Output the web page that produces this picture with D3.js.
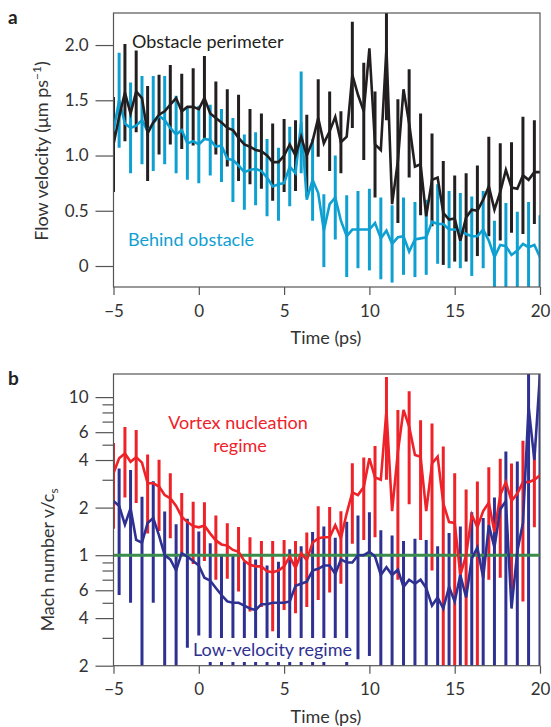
<!DOCTYPE html>
<html>
<head>
<meta charset="utf-8">
<script src="https://cdn.jsdelivr.net/npm/d3@7"></script>
<style>
  body { margin: 0; background: #fff; }
  text { font-family: Lato, "Open Sans", sans-serif; }
</style>
</head>
<body>
<svg id="chart" width="551" height="727"></svg>
<script>
// sample times (ps), every 1/3 ps
const times = [-5, -4.67, -4.33, -4, -3.67, -3.33, -3, -2.67, -2.33, -2, -1.67, -1.33, -1, -0.67, -0.33, 0,
  0.33, 0.67, 1, 1.33, 1.67, 2, 2.33, 2.67, 3, 3.33, 3.67, 4, 4.33, 4.67, 5, 5.33, 5.67, 6, 6.33, 6.67,
  7, 7.33, 7.67, 8, 8.33, 8.67, 9, 9.33, 9.67, 10, 10.33, 10.67, 11, 11.33, 11.67, 12, 12.33, 12.67,
  13, 13.33, 13.67, 14, 14.33, 14.67, 15, 15.33, 15.67, 16, 16.33, 16.67, 17, 17.33, 17.67, 18, 18.33,
  18.67, 19, 19.33, 19.67, 20];

// panel a: flow velocity (um/ps)
const perimeter = [1.10, 1.35, 1.57, 1.38, 1.58, 1.52, 1.20, 1.30, 1.37, 1.40, 1.46, 1.52, 1.40, 1.44, 1.44, 1.42,
  1.52, 1.38, 1.34, 1.30, 1.25, 1.23, 1.16, 1.10, 1.08, 1.05, 1.04, 1.00, 0.94, 0.94, 1.00, 1.10, 1.00, 1.17,
  1.00, 1.13, 1.34, 1.11, 1.22, 1.35, 1.12, 1.17, 1.73, 1.55, 1.40, 1.97, 1.10, 1.05, 1.97, 0.56, 0.95, 1.60,
  1.29, 0.90, 0.92, 0.45, 0.78, 0.80, 0.48, 0.42, 0.43, 0.23, 0.44, 0.51, 0.50, 0.60, 0.72, 0.51, 0.67, 0.87,
  0.71, 0.70, 0.82, 0.78, 0.85, 0.85];
const perimeterErr = [0.43, null, 0.44, null, 0.37, null, 0.43, null, 0.36, null, 0.36, null, 0.34, null, 0.35, null,
  0.38, null, 0.33, null, 0.35, null, 0.39, null, 0.34, null, 0.34, null, 0.35, null, 0.33, null, 0.32, null,
  0.37, null, 0.35, null, 0.36, null, 0.28, null, 0.48, null, 0.44, null, 0.48, null, 0.65, null, 0.56, null,
  0.49, null, 0.46, null, 0.42, null, 0.47, null, 0.39, null, 0.40, null, 0.41, null, 0.45, null, 0.44, null,
  0.41, null, 0.53, null, 0.47, null];
const behind = [1.22, 1.50, 1.29, 1.25, 1.27, 1.32, 1.22, 1.29, 1.36, 1.32, 1.25, 1.19, 1.23, 1.11, 1.13, 1.10,
  1.15, 1.14, 1.08, 1.09, 0.97, 0.96, 0.91, 0.85, 0.87, 0.88, 0.86, 0.80, 0.72, 0.74, 0.75, 0.90, 0.84, 1.30,
  0.60, 0.78, 0.66, 0.32, 0.56, 0.62, 0.41, 0.27, 0.33, 0.33, 0.33, 0.33, 0.39, 0.25, 0.32, 0.20, 0.26, 0.27,
  0.13, 0.24, 0.25, 0.26, 0.40, 0.38, 0.38, 0.33, 0.33, 0.32, 0.29, 0.27, 0.27, 0.33, 0.23, 0.08, 0.19, 0.18,
  0.10, 0.14, 0.20, 0.17, 0.19, 0.08];
const behindErr = [null, 0.43, null, 0.41, null, 0.40, null, 0.43, null, 0.40, null, 0.35, null, 0.33, null, 0.35,
  null, 0.32, null, 0.33, null, 0.38, null, 0.34, null, 0.33, null, 0.35, null, 0.33, null, 0.36, null, 0.46,
  null, 0.37, null, 0.33, null, 0.38, null, 0.37, null, 0.35, null, 0.37, null, 0.37, null, 0.35, null, 0.35,
  null, 0.34, null, 0.34, null, 0.36, null, 0.35, null, 0.34, null, 0.36, null, 0.35, null, 0.33, null, 0.39,
  null, 0.35, null, 0.41, null, 0.38];

// panel b: Mach number v/cs
const vortex = [3.3, 4.1, 4.4, 3.9, 4.17, 3.85, 2.85, 2.85, 2.72, 2.4, 2.29, 2.05, 1.75, 1.62, 1.53, 1.50,
  1.54, 1.37, 1.24, 1.17, 1.15, 1.08, 1.05, 0.92, 0.87, 0.85, 0.85, 0.79, 0.78, 0.80, 0.85, 0.98, 0.83, 1.03,
  0.93, 1.2, 1.28, 1.3, 1.3, 1.55, 1.28, 1.84, 2.5, 2.4, 2.7, 4.1, 3.1, 3.0, 8.2, 1.9, 4.5, 8.3,
  6.5, 4.3, 4.2, 1.9, 3.8, 4.2, 2.13, 1.62, 1.6, 0.75, 1.0, 1.8, 1.5, 1.9, 2.15, 1.4, 2.4, 2.9,
  2.2, 2.45, 2.9, 2.9, 3.0, 3.2];
const vortexErr = [1.83, null, 2.08, null, 2.03, null, 1.48, null, 1.3, null, 1.01, null, 0.72, null, 0.65, null,
  0.62, null, 0.54, null, 0.44, null, 0.46, null, 0.43, null, 0.38, null, 0.45, null, 0.40, null, 0.40, null,
  0.46, null, 0.76, null, 0.72, null, 0.62, null, 1.32, null, 1.45, null, 1.8, null, 5.2, null, 3.8, null,
  4.4, null, 2.95, null, 3.0, null, 2.74, null, 1.7, null, 1.6, null, 1.42, null, 1.45, null, 1.68, null,
  1.6, null, 2.39, null, 1.5, null];
const lowVel = [2.2, 2.05, 1.56, 1.98, 1.25, 1.2, 1.6, 1.72, 1.33, 1.0, 0.94, 0.8, 1.03, 0.98, 0.92, 0.86,
  0.72, 0.69, 0.62, 0.56, 0.51, 0.50, 0.50, 0.48, 0.46, 0.45, 0.49, 0.49, 0.50, 0.50, 0.50, 0.51, 0.64, 0.66,
  0.68, 0.8, 0.82, 0.86, 0.86, 0.76, 0.94, 0.9, 0.9, 1.0, 1.0, 1.05, 0.98, 0.75, 0.84, 0.75, 0.81, 0.63,
  0.7, 0.66, 0.7, 0.62, 0.48, 0.54, 0.46, 0.63, 0.51, 0.75, 0.54, 0.95, 1.12, 0.72, 1.55, 1.12, 1.95, 2.2,
  0.46, 1.06, 1.6, 8.7, 4.0, 14];
const lowVelErr = [null, 1.49, null, 1.48, null, 1.14, null, 1.22, null, 0.89, null, 0.77, null, 0.72, null, 0.55,
  null, 0.5, null, 0.43, null, 0.5, null, 0.43, null, 0.49, null, 0.37, null, 0.41, null, 0.58, null, 0.48,
  null, 0.6, null, 0.66, null, 0.53, null, 0.73, null, 0.78, null, 0.82, null, 0.69, null, 0.58, null, 0.6,
  null, 0.61, null, 0.63, null, 0.6, null, 0.75, null, 0.77, null, 0.92, null, 1.0, null, 1.2, null, 2.33,
  null, 2.85, null, 9, null, 14];

const xTicks = [-5, 0, 5, 10, 15, 20];
const aTicks = [0, 0.5, 1, 1.5, 2];
const bMajor = [0.2, 0.4, 0.6, 1, 2, 4, 6, 10];
const bMinor = [0.3, 0.5, 0.7, 0.8, 0.9, 3, 5, 7, 8, 9];

const C = {black: '#231f20', cyan: '#0fa0d2', red: '#ee2229', blue: '#2e3192', green: '#3a8c4c', axis: '#555'};

const svg = d3.select('#chart');
const x = d3.scaleLinear().domain([-5, 20]).range([113.5, 540]);
const ya = d3.scaleLinear().domain([-0.19, 2.29]).range([287, 13]);
const yb = d3.scaleLog().domain([0.2, 14]).range([665.7, 374]);

function clip(id, y0, y1) {
  svg.append('clipPath').attr('id', id).append('rect')
    .attr('x', x.range()[0]).attr('y', y1).attr('width', x.range()[1] - x.range()[0]).attr('height', y0 - y1);
}
clip('ca', ya.range()[0], ya.range()[1]);
clip('cb', yb.range()[0], yb.range()[1]);

function bars(g, vals, errs, y, color, isLog) {
  const data = vals.map((v, i) => ({t: times[i], v, e: errs[i]})).filter(d => d.e != null);
  g.selectAll(null).data(data).enter().append('line')
    .attr('x1', d => x(d.t)).attr('x2', d => x(d.t))
    .attr('y1', d => y(d.v + d.e))
    .attr('y2', d => (isLog && d.v - d.e <= 0.05) ? y.range()[0] + 5 : y(d.v - d.e))
    .attr('stroke', color).attr('stroke-width', 3);
}
function curve(g, vals, y, color) {
  g.append('path').datum(vals)
    .attr('d', d3.line().x((d, i) => x(times[i])).y(d => y(d)))
    .attr('fill', 'none').attr('stroke', color).attr('stroke-width', 2.6);
}
function styleAxis(g) {
  g.select('.domain').remove();
  g.selectAll('line').attr('stroke', C.axis).attr('stroke-width', 1.2);
  g.selectAll('text').attr('font-size', 17).attr('fill', '#333').attr('font-family', 'Lato, "Open Sans", sans-serif');
}

// ---------- panel a ----------
const ga = svg.append('g');
const pa = ga.append('g').attr('clip-path', 'url(#ca)');
bars(pa, behind, behindErr, ya, C.cyan, false);
bars(pa, perimeter, perimeterErr, ya, C.black, false);
curve(pa, behind, ya, C.cyan);
curve(pa, perimeter, ya, C.black);

ga.append('g').attr('transform', 'translate(113.5,0)')
  .call(d3.axisLeft(ya).tickValues(aTicks).tickSize(18).tickPadding(7)
    .tickFormat(d => d === 0 ? '0' : d.toFixed(1)))
  .call(styleAxis);
ga.append('g').attr('transform', 'translate(0,287)')
  .call(d3.axisBottom(x).tickValues(xTicks).tickSize(8).tickPadding(10))
  .call(styleAxis);
ga.append('rect').attr('x', 113.5).attr('y', 13).attr('width', 426.5).attr('height', 274)
  .attr('fill', 'none').attr('stroke', C.axis).attr('stroke-width', 1.2);

ga.append('text').attr('x', 326).attr('y', 344).attr('text-anchor', 'middle')
  .attr('font-size', 18).attr('fill', '#333').text('Time (ps)');
const la = ga.append('text').attr('transform', 'translate(48,151) rotate(-90)')
  .attr('text-anchor', 'middle').attr('font-size', 18).attr('fill', '#333');
la.append('tspan').text('Flow velocity (μm ps');
la.append('tspan').attr('font-size', 12).attr('dy', -7).text('−1');
la.append('tspan').attr('dy', 7).text(')');
ga.append('text').attr('x', 132).attr('y', 48).attr('font-size', 18).attr('fill', C.black).text('Obstacle perimeter');
ga.append('text').attr('x', 128).attr('y', 246).attr('font-size', 18).attr('fill', C.cyan).text('Behind obstacle');
svg.append('text').attr('x', 8).attr('y', 24).attr('font-size', 19).attr('font-weight', 'bold').attr('fill', '#222').text('a');

// ---------- panel b ----------
const gb = svg.append('g');
const pb = gb.append('g').attr('clip-path', 'url(#cb)');
bars(pb, vortex, vortexErr, yb, C.red, true);
bars(pb, lowVel, lowVelErr, yb, C.blue, true);
pb.append('line').attr('x1', x(-5)).attr('x2', x(20)).attr('y1', yb(1)).attr('y2', yb(1))
  .attr('stroke', C.green).attr('stroke-width', 3);
curve(pb, vortex, yb, C.red);
curve(pb, lowVel, yb, C.blue);

gb.append('rect').attr('x', 190).attr('y', 638).attr('width', 163).attr('height', 24).attr('fill', '#fff');
gb.append('text').attr('x', 193).attr('y', 656).attr('font-size', 18).attr('fill', C.blue).text('Low-velocity regime');
gb.append('text').attr('x', 238).attr('y', 429).attr('text-anchor', 'middle').attr('font-size', 18)
  .attr('fill', C.red).text('Vortex nucleation');
gb.append('text').attr('x', 240).attr('y', 452).attr('text-anchor', 'middle').attr('font-size', 18)
  .attr('fill', C.red).text('regime');

gb.append('g').attr('transform', 'translate(113.5,0)')
  .call(d3.axisLeft(yb).tickValues(bMajor).tickSize(18).tickPadding(7)
    .tickFormat(d => d >= 1 ? String(d) : String(Math.round(d * 10))))
  .call(styleAxis);
gb.append('g').attr('transform', 'translate(113.5,0)')
  .call(d3.axisLeft(yb).tickValues(bMinor).tickSize(11).tickFormat(''))
  .call(styleAxis);
gb.append('g').attr('transform', 'translate(0,665.7)')
  .call(d3.axisBottom(x).tickValues(xTicks).tickSize(8).tickPadding(9))
  .call(styleAxis);
gb.append('rect').attr('x', 113.5).attr('y', 374).attr('width', 426.5).attr('height', 291.7)
  .attr('fill', 'none').attr('stroke', C.axis).attr('stroke-width', 1.2);

gb.append('text').attr('x', 326).attr('y', 723).attr('text-anchor', 'middle')
  .attr('font-size', 18).attr('fill', '#333').text('Time (ps)');
const lb = gb.append('text').attr('transform', 'translate(54,560) rotate(-90)')
  .attr('text-anchor', 'middle').attr('font-size', 18).attr('fill', '#333');
lb.append('tspan').text('Mach number v/c');
lb.append('tspan').attr('font-size', 12).attr('dy', 4).text('s');
svg.append('text').attr('x', 8).attr('y', 385).attr('font-size', 19).attr('font-weight', 'bold').attr('fill', '#222').text('b');
</script>
</body>
</html>
